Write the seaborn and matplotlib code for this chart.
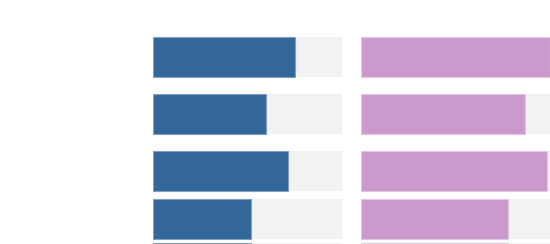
import matplotlib
matplotlib.use("Agg")
import matplotlib.pyplot as plt
import seaborn as sns
import pandas as pd

# Row positions (vertical centre, in pixel-like units of the chart)
row_pos = [57, 114, 171, 219, 263]
left_values = [0.75, 0.598, 0.713, 0.519, 0.519]
right_values = [1.0, 0.866, 0.986, 0.778, 0.778]
track_values = [1.0, 1.0, 1.0, 1.0, 1.0]

left_color = "#336699"
right_color = "#cc99cc"
track_color = "#f2f2f2"

fig = plt.figure(figsize=(5.5, 2.44), dpi=100)
ax_left = fig.add_axes([153 / 550, 0, 189 / 550, 1])
ax_right = fig.add_axes([361 / 550, 0, 189 / 550, 1])

bar_w = 40 / 44  # bar thickness relative to smallest row spacing

for ax, vals, col, edge in [
    (ax_left, left_values, left_color, "#7f9fc0"),
    (ax_right, right_values, right_color, "#e3c6e3"),
]:
    df_track = pd.DataFrame({"pos": row_pos, "value": track_values})
    df_bar = pd.DataFrame({"pos": row_pos, "value": vals})
    sns.barplot(data=df_track, x="value", y="pos", orient="y", native_scale=True,
                width=bar_w, color=track_color, saturation=1, linewidth=0,
                errorbar=None, ax=ax)
    sns.barplot(data=df_bar, x="value", y="pos", orient="y", native_scale=True,
                width=bar_w, color=col, saturation=1, linewidth=0.8,
                edgecolor=edge, errorbar=None, ax=ax)
    ax.set_xlim(0, 1)
    ax.set_ylim(244, 0)
    ax.axis("off")

fig.savefig("out.png", dpi=100)
